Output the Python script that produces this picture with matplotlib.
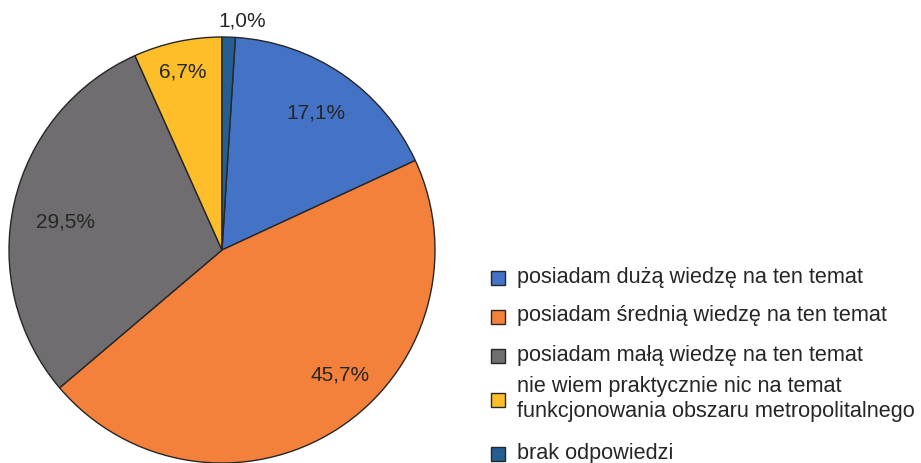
import numpy as np
import matplotlib.pyplot as plt
from matplotlib.patches import Rectangle

plt.rcParams['font.family'] = ['Liberation Sans', 'DejaVu Sans']

categories = [
    'posiadam dużą wiedzę na ten temat',
    'posiadam średnią wiedzę na ten temat',
    'posiadam małą wiedzę na ten temat',
    'nie wiem praktycznie nic na temat\nfunkcjonowania obszaru metropolitalnego',
    'brak odpowiedzi',
]
values = [17.1, 45.7, 29.5, 6.7, 1.0]
value_labels = ['17,1%', '45,7%', '29,5%', '6,7%', '1,0%']
colors = ['#4472C4', '#F4813B', '#6F6D6F', '#FDBE2A', '#255E91']

# label placement (radius, angle in degrees) in pie units
label_pos = [(0.78, 55.5), (0.81, -46.6), (0.745, 169.8), (0.855, 102.4), (1.08, 85.0)]
# legend row centres, pixels from the top of the figure
legend_rows = [277, 316, 355, 399, 453]

W, H = 921, 463
fig = plt.figure(figsize=(W / 100, H / 100), dpi=100)
ax = fig.add_axes([9 / W, 0, 426 / W, 426 / H])

# the small "brak odpowiedzi" slice sits just right of 12 o'clock
start = 90 - values[-1] * 3.6
wedges, _ = ax.pie(values, colors=colors, startangle=start, counterclock=False,
                   wedgeprops=dict(edgecolor='#262626', linewidth=1.0))
ax.set_xlim(-1, 1)
ax.set_ylim(-1, 1)
ax.set_aspect('equal')

for lab, (r, a) in zip(value_labels, label_pos):
    t = np.deg2rad(a)
    ax.text(r * np.cos(t), r * np.sin(t), lab, ha='center', va='center',
            fontsize=15, color='#262626', clip_on=False)

# hand-made legend (Excel spaces the rows unevenly)
for cat, col, y in zip(categories, colors, legend_rows):
    yf = 1 - y / H
    fig.add_artist(Rectangle((491 / W, yf - 8 / H), 14 / W, 14 / H, transform=fig.transFigure,
                             facecolor=col, edgecolor='#262626', linewidth=1.0))
    fig.text(517 / W, yf, cat, ha='left', va='center', fontsize=15.6,
             color='#262626', linespacing=1.3)

fig.savefig('out.png', dpi=100)
